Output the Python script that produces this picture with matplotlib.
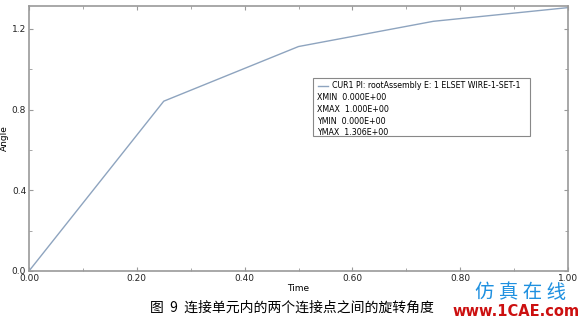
import matplotlib
matplotlib.use("Agg")
import matplotlib.pyplot as plt
from matplotlib.ticker import MultipleLocator, FormatStrFormatter
from matplotlib.patches import Rectangle

plt.rcParams['font.family'] = ['DejaVu Sans', 'Noto Sans CJK SC']

time = [0.0, 0.25, 0.5, 0.75, 1.0]
angle = [0.0, 0.842, 1.113, 1.238, 1.306]
legend_lines = ["XMIN  0.000E+00", "XMAX  1.000E+00", "YMIN  0.000E+00", "YMAX  1.306E+00"]
curve_label = "CUR1 PI: rootAssembly E: 1 ELSET WIRE-1-SET-1"
caption = "图  9  连接单元内的两个连接点之间的旋转角度"

W, H = 581, 320
fig = plt.figure(figsize=(W/100, H/100), dpi=100)
ax = fig.add_axes([29/W, 1-271/H, (568-29)/W, (271-6)/H])
ax.plot(time, angle, color='#8ea4bf', lw=1.0)
ax.set_xlim(0, 1.0)
ax.set_ylim(0, 1.314)
ax.xaxis.set_major_locator(MultipleLocator(0.2))
ax.xaxis.set_minor_locator(MultipleLocator(0.1))
ax.yaxis.set_major_locator(MultipleLocator(0.4))
ax.yaxis.set_minor_locator(MultipleLocator(0.2))
ax.xaxis.set_major_formatter(FormatStrFormatter('%.2f'))
ax.yaxis.set_major_formatter(FormatStrFormatter('%.1f'))
ax.tick_params(which='both', direction='in', colors='#999999', labelcolor='#222222',
               labelsize=6.5, top=True, right=True, pad=2)
ax.tick_params(which='major', length=3)
ax.tick_params(which='minor', length=2)
for s in ax.spines.values():
    s.set_color('#999999')
    s.set_linewidth(1.2)
ax.set_xlabel('Time', fontsize=6.5, labelpad=1)
ax.set_ylabel('Angle', fontsize=6.5, labelpad=2)

# legend box
lx0, ly0, lx1, ly1 = 313, 78, 530, 136
fig.patches.append(Rectangle((lx0/W, 1-ly1/H), (lx1-lx0)/W, (ly1-ly0)/H,
                             transform=fig.transFigure, facecolor='white',
                             edgecolor='#888888', lw=0.8))
fig.add_artist(plt.Line2D([318/W, 328/W], [1-86/H, 1-86/H], color='#8ea4bf', lw=1.0))
fig.text(332/W, 1-86/H, curve_label, fontsize=5.7, va='center', ha='left')
for i, t in enumerate(legend_lines):
    fig.text(317/W, 1-(98+11.5*i)/H, t, fontsize=5.7, va='center', ha='left')

fig.text(292/W, 1-308/H, caption, fontsize=10, ha='center', va='center',
         family=['Noto Sans CJK SC'])
fig.text(521/W, 1-292/H, "仿 真 在 线", fontsize=14, ha='center', va='center',
         color='#1e90e0', family=['Noto Sans CJK SC'])
fig.text(516/W, 1-311/H, "www.1CAE.com", fontsize=10.5, ha='center', va='center',
         color='#cc1010', weight='bold')

fig.savefig('out.png', dpi=100)
